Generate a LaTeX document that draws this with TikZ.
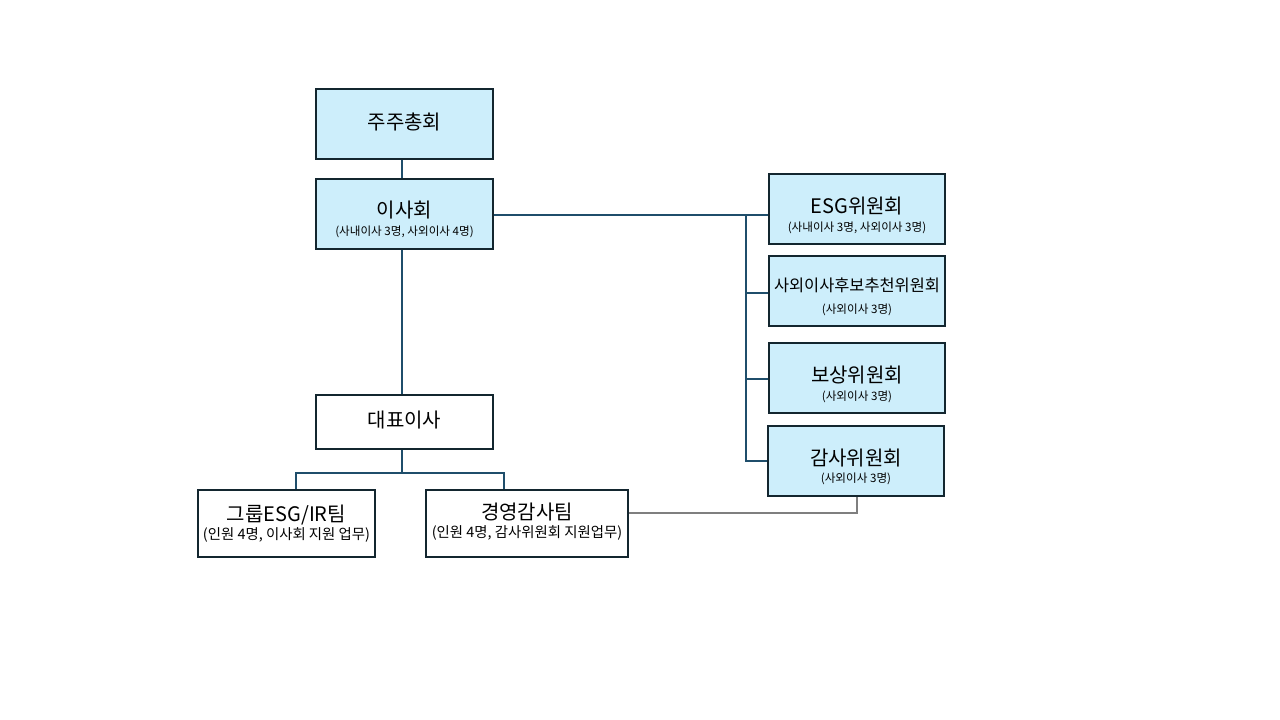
\documentclass[tikz,border=0pt]{standalone}
\usepackage{fontspec}
\setmainfont{Noto Sans CJK KR}
\definecolor{boxfill}{HTML}{CDEEFB}
\definecolor{boxline}{HTML}{13262F}
\definecolor{conn}{HTML}{1F4E6B}
\definecolor{gconn}{HTML}{7F7F7F}
\begin{document}
\begin{tikzpicture}[x=0.75pt,y=-0.75pt,
  box/.style={draw=boxline,line width=1.5pt,inner sep=0pt,align=center},
  bluebox/.style={box,fill=boxfill},
  whitebox/.style={box,fill=white},
  ttl/.style={font=\fontsize{15pt}{18pt}\selectfont},
  sub/.style={font=\fontsize{8.7pt}{10pt}\selectfont},
  subw/.style={font=\fontsize{10.8pt}{12pt}\selectfont},
  link/.style={draw=conn,line width=1.5pt},
  glink/.style={draw=gconn,line width=1.5pt}]
\useasboundingbox (0,0) rectangle (1280,720);
\fill[white] (0,0) rectangle (1280,720);
% top column
\node[bluebox,minimum width=177*0.75pt,minimum height=70*0.75pt] (agm) at (404.5,124) {};
\node[ttl] at (404.5,122) {주주총회};
\node[bluebox,minimum width=177*0.75pt,minimum height=70*0.75pt] (board) at (404.5,214) {};
\node[ttl] at (404.5,210) {이사회};
\node[sub] at (404.5,232) {(사내이사 3명, 사외이사 4명)};
\node[whitebox,minimum width=177*0.75pt,minimum height=54*0.75pt] (ceo) at (404.5,422) {};
\node[ttl] at (404.5,420) {대표이사};
% committees
\node[bluebox,minimum width=176*0.75pt,minimum height=70*0.75pt] (esg) at (857,209) {};
\node[ttl] at (857,206) {ESG위원회};
\node[sub] at (857,228) {(사내이사 3명, 사외이사 3명)};
\node[bluebox,minimum width=176*0.75pt,minimum height=70*0.75pt] (nom) at (857,291) {};
\node[font=\fontsize{12.3pt}{15pt}\selectfont] at (857,285) {사외이사후보추천위원회};
\node[sub] at (857,310) {(사외이사 3명)};
\node[bluebox,minimum width=176*0.75pt,minimum height=70*0.75pt] (comp) at (857,378) {};
\node[ttl] at (857,375) {보상위원회};
\node[sub] at (857,397) {(사외이사 3명)};
\node[bluebox,minimum width=176*0.75pt,minimum height=70*0.75pt] (audit) at (856,461) {};
\node[ttl] at (856,458) {감사위원회};
\node[sub] at (856,479) {(사외이사 3명)};
% teams
\node[whitebox,minimum width=177*0.75pt,minimum height=67*0.75pt] (esgteam) at (286.5,523.5) {};
\node[ttl] at (286.5,515) {그룹ESG/IR팀};
\node[subw] at (286.5,535) {(인원 4명, 이사회 지원 업무)};
\node[whitebox,minimum width=202*0.75pt,minimum height=67*0.75pt] (auditteam) at (527,523.5) {};
\node[ttl] at (527,512) {경영감사팀};
\node[subw] at (527,533) {(인원 4명, 감사위원회 지원업무)};
% connectors
\coordinate (bus) at (746,215);
\coordinate (split) at (402,473);
\draw[link] (agm.south -| split) -- (board.north -| split);
\draw[link] (board.south -| split) -- (ceo.north -| split);
\draw[link] (board.east |- bus) -- (esg.west |- bus);
\draw[link] (bus) -- (746,461) -- (audit.west |- 0,461);
\draw[link] (746,293) -- (nom.west |- 0,293);
\draw[link] (746,379) -- (comp.west |- 0,379);
\draw[link] (ceo.south -| split) -- (split) -- (296,473) -- (esgteam.north -| 296,0);
\draw[link] (split) -- (504,473) -- (auditteam.north -| 504,0);
\draw[glink] (auditteam.east |- 0,513) -- (857,513) -- (audit.south -| 857,0);
\end{tikzpicture}
\end{document}
